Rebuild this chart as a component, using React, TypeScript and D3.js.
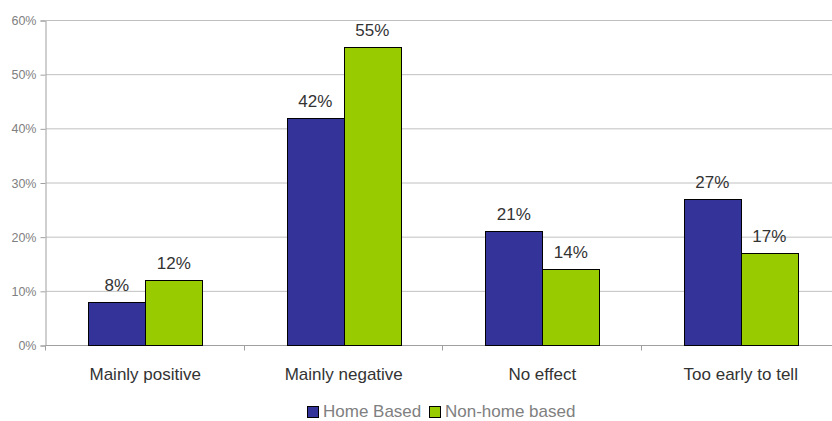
import React, {useEffect, useRef} from "react";
import * as d3 from "d3";

const categories = ["Mainly positive", "Mainly negative", "No effect", "Too early to tell"]
const seriesNames = ["Home Based", "Non-home based"]
const homeBased = [8, 42, 21, 27]
const nonHomeBased = [12, 55, 14, 17]
const yTicks = [0, 10, 20, 30, 40, 50, 60]
const colors = ["#333399", "#99cc00"]

const App = () => {
    const svgRef = useRef(null)

    useEffect(() => {
        const svg = d3.select(svgRef.current)
        svg.selectAll("*").remove()
        const left = 46, right = 840, top = 20, bottom = 345
        const font = "Liberation Sans, Arial, sans-serif"

        const x = d3.scaleBand().domain(categories).range([left, right])
        const inner = d3.scaleBand().domain(seriesNames).range([0, 114])
        const y = d3.scaleLinear().domain([0, 60]).range([bottom, top])

        // grid
        svg.append("g").selectAll("line").data(yTicks.slice(1)).join("line")
            .attr("x1", left).attr("x2", right)
            .attr("y1", d => y(d) + 0.5).attr("y2", d => y(d) + 0.5)
            .attr("stroke", "#c0c0c0")

        const yAxis = svg.append("g").attr("transform", `translate(${left - 0.5},0.5)`)
            .call(d3.axisLeft(y).tickValues(yTicks).tickSize(5).tickFormat(d => d + "%"))
        yAxis.select(".domain").attr("stroke", "#a0a0a0")
        yAxis.selectAll("line").attr("stroke", "#a0a0a0")
        yAxis.selectAll("text").attr("fill", "#808080").attr("font-size", 12.5)
            .attr("font-family", font).attr("dx", -1)

        const xAxis = svg.append("g").attr("transform", `translate(0,${bottom + 0.5})`)
        xAxis.append("line").attr("x1", left).attr("x2", right).attr("stroke", "#a0a0a0")
        xAxis.selectAll("line.t").data(d3.range(categories.length + 1)).join("line")
            .attr("class", "t")
            .attr("x1", i => Math.round(left + i * x.step()) - 0.5).attr("x2", i => Math.round(left + i * x.step()) - 0.5)
            .attr("y1", 0).attr("y2", 5).attr("stroke", "#a0a0a0")
        xAxis.selectAll("text").data(categories).join("text")
            .attr("x", d => x(d)! + x.bandwidth() / 2).attr("y", 34)
            .attr("text-anchor", "middle").attr("font-size", 17).attr("fill", "#333333")
            .attr("font-family", font)
            .text(d => d)

        const series = [homeBased, nonHomeBased]
        series.forEach((vals, si) => {
            const g = svg.append("g")
            const bx = (i: number) => x(categories[i])! + x.bandwidth() / 2 - 57 + inner(seriesNames[si])!
            g.selectAll("rect").data(vals).join("rect")
                .attr("x", (d, i) => Math.round(bx(i)) + 0.5).attr("y", d => Math.round(y(d)) + 0.5)
                .attr("width", Math.round(inner.bandwidth()))
                .attr("height", d => bottom - Math.round(y(d)))
                .attr("fill", colors[si]).attr("stroke", "#000").attr("stroke-width", 1)
            g.selectAll("text").data(vals).join("text")
                .attr("x", (d, i) => bx(i) + inner.bandwidth() / 2).attr("y", d => y(d) - 11)
                .attr("text-anchor", "middle").attr("font-size", 17).attr("fill", "#333333")
                .attr("font-family", font)
                .text(d => d + "%")
        })

        // legend
        const legend = svg.append("g").attr("transform", "translate(307,406)")
        const offsets = [0, 122]
        seriesNames.forEach((name, i) => {
            legend.append("rect").attr("x", offsets[i] + 0.5).attr("y", 0.5).attr("width", 11).attr("height", 11)
                .attr("fill", colors[i]).attr("stroke", "#000")
            legend.append("text").attr("x", offsets[i] + 16).attr("y", 11)
                .attr("font-size", 17).attr("fill", "#808080")
                .attr("font-family", font)
                .text(name)
        })
    }, [])

    return (
        <svg ref={svgRef} width={832} height={421} style={{position: "absolute", left: 0, top: 0}}/>
    );
};

export default App;
